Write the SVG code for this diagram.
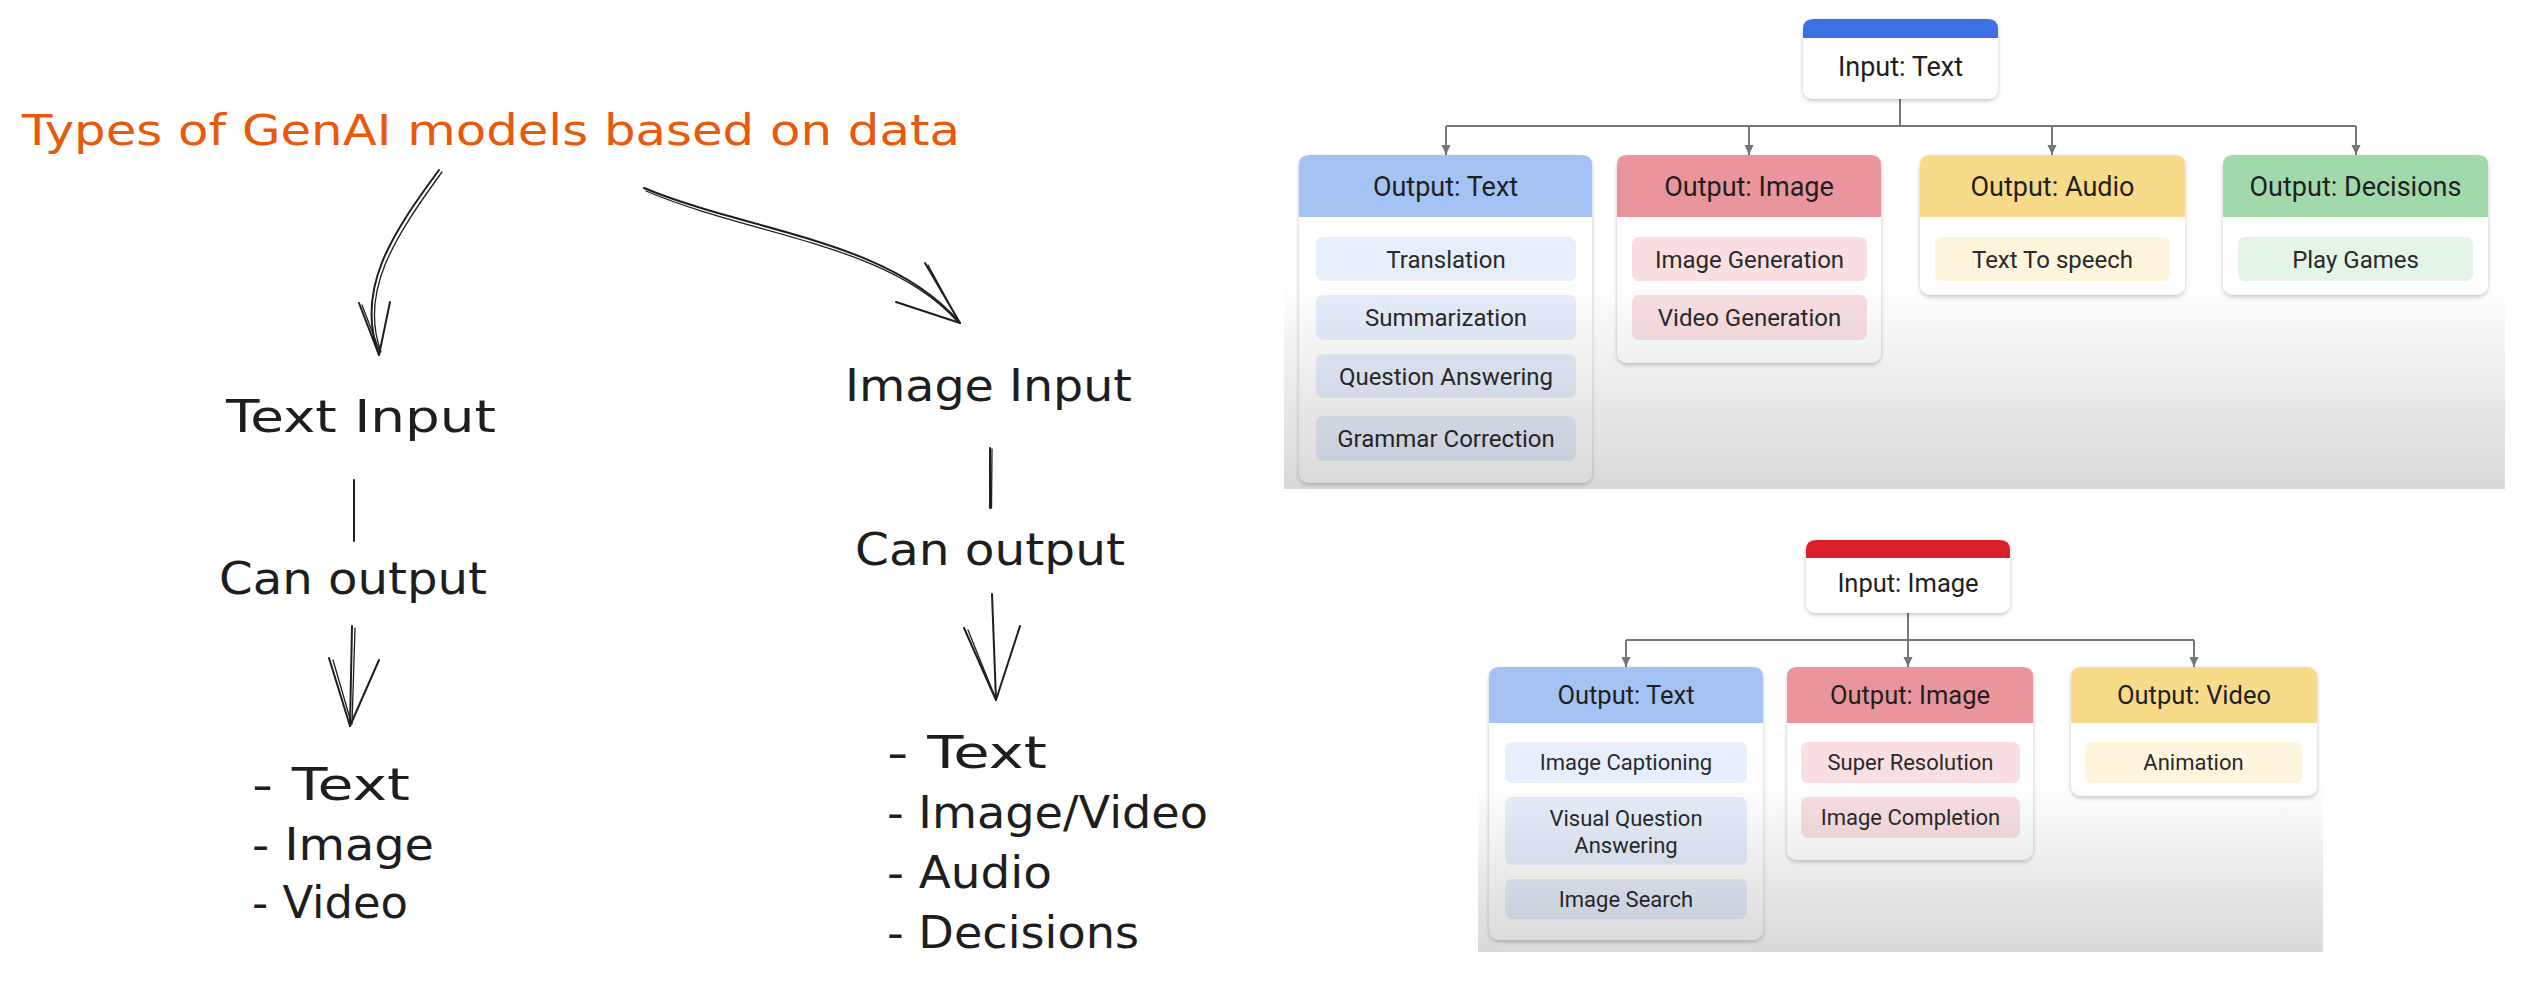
<svg xmlns="http://www.w3.org/2000/svg" width="2526" height="988" viewBox="0 0 2526 988">
<defs>
<style>
.hand{font-family:"DejaVu Sans","Liberation Sans",sans-serif;font-size:44px;fill:#1e1e1e}
.title{font-family:"DejaVu Sans","Liberation Sans",sans-serif;font-size:42px;fill:#e8590c}
.sk{stroke:#1e1e1e;stroke-width:2;fill:none;stroke-linecap:round;stroke-linejoin:round}
.sk2{stroke:#1e1e1e;stroke-width:1.3;fill:none;stroke-linecap:round}
.card{fill:#ffffff;filter:url(#sh)}
.t1{font-family:Roboto,"Liberation Sans",sans-serif;font-size:27px;fill:#1f1f1f;text-anchor:middle}
.i1{font-family:Roboto,"Liberation Sans",sans-serif;font-size:24px;fill:#2a2a2a;text-anchor:middle}
.t2{font-family:Roboto,"Liberation Sans",sans-serif;font-size:25.5px;fill:#1f1f1f;text-anchor:middle}
.i2{font-family:Roboto,"Liberation Sans",sans-serif;font-size:22px;fill:#2a2a2a;text-anchor:middle}
.conn{stroke:#777777;stroke-width:2;fill:none}
.blue{fill:#a4c2f4}.blueI{fill:#e7eefc}
.red{fill:#ea959b}.redI{fill:#f9dfe2}
.yel{fill:#f7db88}.yelI{fill:#fdf6dc}
.grn{fill:#a1d9ab}.grnI{fill:#e4f4e7}
</style>
<filter id="sh" x="-10%" y="-10%" width="120%" height="125%">
<feDropShadow dx="0" dy="2" stdDeviation="2" flood-color="#000" flood-opacity="0.22"/>
</filter>
<marker id="ah" markerUnits="userSpaceOnUse" markerWidth="10" markerHeight="10" refX="10" refY="5" orient="auto">
<path d="M0,0.5 L10,5 L0,9.5 z" fill="#777777"/>
</marker>
<linearGradient id="fadeTop" gradientUnits="userSpaceOnUse" x1="0" y1="280" x2="0" y2="489">
<stop offset="0" stop-color="#000" stop-opacity="0"/>
<stop offset="1" stop-color="#000" stop-opacity="0.15"/>
</linearGradient>
<linearGradient id="fadeBot" gradientUnits="userSpaceOnUse" x1="0" y1="780" x2="0" y2="952">
<stop offset="0" stop-color="#000" stop-opacity="0"/>
<stop offset="1" stop-color="#000" stop-opacity="0.15"/>
</linearGradient>
</defs>
<rect x="0" y="0" width="2526" height="988" fill="#ffffff"/>

<!-- Sketch part -->
<g id="title"><text class="title" x="22" y="145" textLength="938" lengthAdjust="spacingAndGlyphs">Types of GenAI models based on data</text></g>
<g id="text-input"><text class="hand" x="226" y="432" textLength="270" lengthAdjust="spacingAndGlyphs">Text Input</text></g>
<g id="can-output-left"><text class="hand" x="219" y="594" textLength="268" lengthAdjust="spacingAndGlyphs">Can output</text></g>
<g id="list-left">
<text class="hand" x="252" y="800" textLength="158" lengthAdjust="spacingAndGlyphs">- Text</text>
<text class="hand" x="252" y="860" textLength="182" lengthAdjust="spacingAndGlyphs">- Image</text>
<text class="hand" x="252" y="918" textLength="156" lengthAdjust="spacingAndGlyphs">- Video</text>
</g>
<g id="image-input"><text class="hand" x="845" y="401" textLength="287" lengthAdjust="spacingAndGlyphs">Image Input</text></g>
<g id="can-output-right"><text class="hand" x="855" y="565" textLength="270" lengthAdjust="spacingAndGlyphs">Can output</text></g>
<g id="list-right">
<text class="hand" x="887" y="768" textLength="160" lengthAdjust="spacingAndGlyphs">- Text</text>
<text class="hand" x="887" y="828" textLength="321" lengthAdjust="spacingAndGlyphs">- Image/Video</text>
<text class="hand" x="887" y="888" textLength="165" lengthAdjust="spacingAndGlyphs">- Audio</text>
<text class="hand" x="887" y="948" textLength="252" lengthAdjust="spacingAndGlyphs">- Decisions</text>
</g>
<g id="sketch-connectors">
<path class="sk" d="M439,170 C391,235 355,290 379,355"/>
<path class="sk2" d="M442,172 C394,238 359,292 381,352"/>
<path class="sk" d="M359,303 L379,355 M390,302 L379,355"/>
<path class="sk2" d="M362,305 L380,352"/>
<path class="sk" d="M644,188 C750,232 890,240 960,323"/>
<path class="sk2" d="M646,191 C752,236 888,244 957,321"/>
<path class="sk" d="M925,263 L960,323 M896,302 L960,323"/>
<path class="sk2" d="M928,265 L958,320"/>
<path class="sk" d="M354,480 L354,541"/>
<path class="sk" d="M990,448 L990,508"/>
<path class="sk2" d="M992,449 L991.5,508"/>
<path class="sk" d="M352,626 L350,726"/>
<path class="sk2" d="M355,628 L352,724"/>
<path class="sk" d="M329,658 L350,726 M379,660 L350,726"/>
<path class="sk2" d="M333,660 L351,722"/>
<path class="sk" d="M992,594 L996,700"/>
<path class="sk" d="M964,628 L996,700 M1020,626 L996,700"/>
<path class="sk2" d="M968,630 L995,697"/>
</g>

<!-- Top chart -->
<g id="top-connectors">
<path class="conn" d="M1900,99 V126"/>
<path class="conn" d="M1446,126 H2356"/>
<path class="conn" d="M1446,126 V155" marker-end="url(#ah)"/>
<path class="conn" d="M1749,126 V155" marker-end="url(#ah)"/>
<path class="conn" d="M2052,126 V155" marker-end="url(#ah)"/>
<path class="conn" d="M2356,126 V155" marker-end="url(#ah)"/>
</g>
<g id="input-text">
<rect class="card" x="1803" y="19" width="195" height="80" rx="10"/>
<path d="M1803,38 V29 Q1803,19 1813,19 H1988 Q1998,19 1998,29 V38 Z" fill="#3d71e3"/>
<text class="t1" x="1900.5" y="76">Input: Text</text>
</g>
<g id="out-text-1">
<rect class="card" x="1299" y="155" width="293" height="328" rx="10"/>
<path class="blue" d="M1299,217 V165 Q1299,155 1309,155 H1582 Q1592,155 1592,165 V217 Z"/>
<text class="t1" x="1445.5" y="196">Output: Text</text>
<rect class="blueI" x="1316" y="237" width="260" height="44" rx="7"/>
<text class="i1" x="1446" y="268">Translation</text>
<rect class="blueI" x="1316" y="295" width="260" height="45" rx="7"/>
<text class="i1" x="1446" y="326">Summarization</text>
<rect class="blueI" x="1316" y="354" width="260" height="44" rx="7"/>
<text class="i1" x="1446" y="385">Question Answering</text>
<rect class="blueI" x="1316" y="416" width="260" height="45" rx="7"/>
<text class="i1" x="1446" y="447">Grammar Correction</text>
</g>
<g id="out-image-1">
<rect class="card" x="1617" y="155" width="264" height="208" rx="10"/>
<path class="red" d="M1617,217 V165 Q1617,155 1627,155 H1871 Q1881,155 1881,165 V217 Z"/>
<text class="t1" x="1749" y="196">Output: Image</text>
<rect class="redI" x="1632" y="237" width="235" height="44" rx="7"/>
<text class="i1" x="1749.5" y="268">Image Generation</text>
<rect class="redI" x="1632" y="295" width="235" height="45" rx="7"/>
<text class="i1" x="1749.5" y="326">Video Generation</text>
</g>
<g id="out-audio-1">
<rect class="card" x="1920" y="155" width="265" height="140" rx="10"/>
<path class="yel" d="M1920,217 V165 Q1920,155 1930,155 H2175 Q2185,155 2185,165 V217 Z"/>
<text class="t1" x="2052.5" y="196">Output: Audio</text>
<rect class="yelI" x="1935" y="237" width="235" height="44" rx="7"/>
<text class="i1" x="2052.5" y="268">Text To speech</text>
</g>
<g id="out-decisions-1">
<rect class="card" x="2223" y="155" width="265" height="140" rx="10"/>
<path class="grn" d="M2223,217 V165 Q2223,155 2233,155 H2478 Q2488,155 2488,165 V217 Z"/>
<text class="t1" x="2355.5" y="196">Output: Decisions</text>
<rect class="grnI" x="2238" y="237" width="235" height="44" rx="7"/>
<text class="i1" x="2355.5" y="268">Play Games</text>
</g>
<rect x="1284" y="0" width="1221" height="489" fill="url(#fadeTop)"/>

<!-- Bottom chart -->
<g id="bottom-connectors">
<path class="conn" d="M1908,613 V667" marker-end="url(#ah)"/>
<path class="conn" d="M1626,640 H2194"/>
<path class="conn" d="M1626,640 V667" marker-end="url(#ah)"/>
<path class="conn" d="M2194,640 V667" marker-end="url(#ah)"/>
</g>
<g id="input-image">
<rect class="card" x="1806" y="540" width="204" height="73" rx="10"/>
<path d="M1806,558 V550 Q1806,540 1816,540 H2000 Q2010,540 2010,550 V558 Z" fill="#d81f2a"/>
<text class="t2" x="1908" y="592">Input: Image</text>
</g>
<g id="out-text-2">
<rect class="card" x="1489" y="667" width="274" height="273" rx="10"/>
<path class="blue" d="M1489,723 V677 Q1489,667 1499,667 H1753 Q1763,667 1763,677 V723 Z"/>
<text class="t2" x="1626" y="704">Output: Text</text>
<rect class="blueI" x="1505" y="742" width="242" height="41" rx="7"/>
<text class="i2" x="1626" y="770">Image Captioning</text>
<rect class="blueI" x="1505" y="797" width="242" height="68" rx="7"/>
<text class="i2" x="1626" y="826">Visual Question</text>
<text class="i2" x="1626" y="853">Answering</text>
<rect class="blueI" x="1505" y="879" width="242" height="40" rx="7"/>
<text class="i2" x="1626" y="907">Image Search</text>
</g>
<g id="out-image-2">
<rect class="card" x="1787" y="667" width="246" height="193" rx="10"/>
<path class="red" d="M1787,723 V677 Q1787,667 1797,667 H2023 Q2033,667 2033,677 V723 Z"/>
<text class="t2" x="1910" y="704">Output: Image</text>
<rect class="redI" x="1801" y="742" width="219" height="41" rx="7"/>
<text class="i2" x="1910.5" y="770">Super Resolution</text>
<rect class="redI" x="1801" y="797" width="219" height="41" rx="7"/>
<text class="i2" x="1910.5" y="825">Image Completion</text>
</g>
<g id="out-video-2">
<rect class="card" x="2071" y="667" width="246" height="129" rx="10"/>
<path class="yel" d="M2071,723 V677 Q2071,667 2081,667 H2307 Q2317,667 2317,677 V723 Z"/>
<text class="t2" x="2194" y="704">Output: Video</text>
<rect class="yelI" x="2085" y="742" width="217" height="41" rx="7"/>
<text class="i2" x="2193.5" y="770">Animation</text>
</g>
<rect x="1478" y="520" width="845" height="432" fill="url(#fadeBot)"/>
</svg>
